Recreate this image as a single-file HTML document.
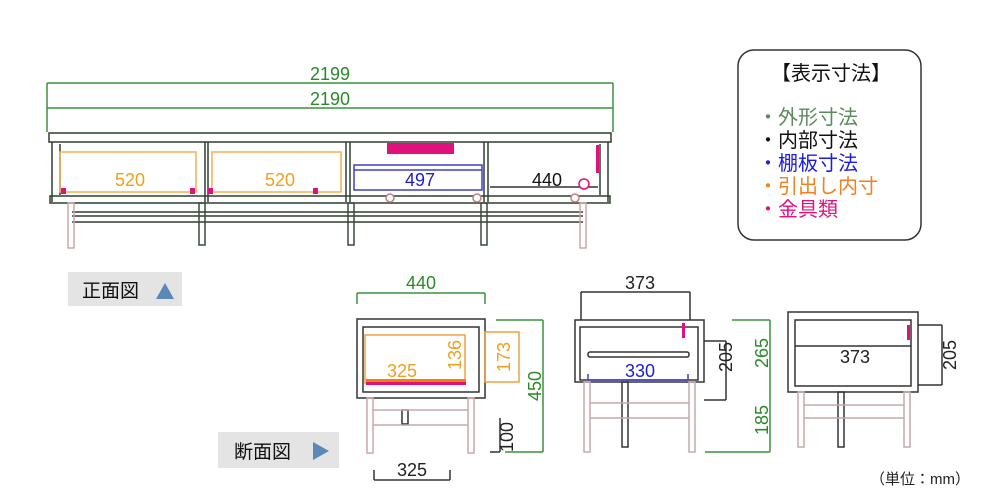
<!DOCTYPE html>
<html><head><meta charset="utf-8"><style>
html,body{margin:0;padding:0;background:#fff;width:1000px;height:500px;overflow:hidden}
svg text{font-family:"Liberation Sans","Noto Sans CJK JP",sans-serif}
</style></head><body>
<svg width="1000" height="500" viewBox="0 0 1000 500" xmlns="http://www.w3.org/2000/svg">
<g fill="none" stroke-width="1.5">
<g stroke="#3a943a">
<line x1="47" y1="83" x2="613" y2="83"/><line x1="47" y1="108" x2="613" y2="108"/>
<line x1="47" y1="83" x2="47" y2="132"/><line x1="613" y1="83" x2="613" y2="132"/>
</g>
<g stroke="#2f3f2f">
<rect x="49" y="133" width="562" height="9"/>
<line x1="52" y1="142" x2="52" y2="202"/><line x1="608" y1="142" x2="608" y2="202"/>
<rect x="50" y="196" width="560" height="7"/>
<line x1="205" y1="142" x2="205" y2="202"/><line x1="208" y1="142" x2="208" y2="202"/>
<line x1="346" y1="142" x2="346" y2="202"/><line x1="350" y1="142" x2="350" y2="202"/>
<line x1="484" y1="142" x2="484" y2="202"/><line x1="488" y1="142" x2="488" y2="202"/>
<line x1="60" y1="144" x2="60" y2="195"/><line x1="600" y1="144" x2="600" y2="195"/>
<line x1="72" y1="212" x2="583" y2="212"/><line x1="72" y1="222" x2="583" y2="222"/>
<line x1="72" y1="216" x2="583" y2="216"/>
</g>
<g stroke="#c8a8a8">
<rect x="68" y="203" width="6" height="45"/><rect x="580" y="203" width="6" height="45"/>
</g>
<g stroke="#3a4a3a">
<rect x="199" y="203" width="6" height="42"/><rect x="348" y="203" width="6" height="42"/>
<rect x="481" y="203" width="6" height="42"/>
</g>
<g stroke="#f0b050">
<rect x="60" y="152" width="136" height="40"/><rect x="212" y="152" width="129" height="40"/>
</g>
<g stroke="#4040c0"><rect x="354" y="165" width="128" height="25"/><line x1="354" y1="170" x2="482" y2="170"/></g>
<line x1="490" y1="187" x2="598" y2="187" stroke="#333"/>
<g stroke="#c08080" fill="#fff"><circle cx="390" cy="198" r="4"/><circle cx="477" cy="198" r="4"/><circle cx="575" cy="198" r="4"/>
<circle cx="584" cy="184" r="5" stroke="#e0117a"/></g>
<rect x="387" y="143" width="67" height="11" fill="#e0117a" stroke="none"/>
<rect x="596" y="145" width="3" height="28" fill="#e0117a" stroke="none"/>
<g fill="#e0117a" stroke="none"><rect x="61" y="188" width="5" height="6"/><rect x="190" y="188" width="5" height="6"/><rect x="208" y="188" width="5" height="6"/><rect x="313" y="188" width="5" height="6"/></g>

<g stroke="#3a943a"><line x1="357" y1="293" x2="485" y2="293"/><line x1="357" y1="293" x2="357" y2="304"/><line x1="485" y1="293" x2="485" y2="304"/>
<line x1="543" y1="320" x2="543" y2="452"/><line x1="496" y1="320" x2="543" y2="320"/><line x1="505" y1="452" x2="543" y2="452"/></g>
<g stroke="#333"><rect x="357" y="319" width="128" height="79"/><rect x="363" y="327" width="116" height="65"/>
<line x1="500" y1="418" x2="500" y2="452"/><line x1="490" y1="452" x2="500" y2="452"/>
<line x1="374" y1="470" x2="374" y2="480"/><line x1="450" y1="470" x2="450" y2="480"/><line x1="374" y1="480" x2="450" y2="480"/>
<rect x="402" y="410" width="6" height="14"/></g>
<g stroke="#c8a8a8"><rect x="367" y="398" width="6" height="55"/><rect x="468" y="398" width="6" height="55"/>
<line x1="373" y1="410" x2="468" y2="410"/><line x1="373" y1="425" x2="468" y2="425"/></g>
<g stroke="#f0a040"><rect x="365" y="335" width="100" height="48"/><rect x="485" y="332" width="34" height="50"/></g>
<rect x="366" y="379" width="100" height="3" fill="#f08000" stroke="none"/>
<rect x="366" y="382" width="100" height="3" fill="#e0117a" stroke="none"/>

<g stroke="#333"><line x1="581" y1="292" x2="690" y2="292"/><line x1="581" y1="292" x2="581" y2="320"/><line x1="690" y1="292" x2="690" y2="320"/>
<rect x="575" y="320" width="129" height="62"/><rect x="580" y="327" width="118" height="53"/>
<line x1="704" y1="341" x2="726" y2="341"/><line x1="704" y1="400" x2="726" y2="400"/><line x1="726" y1="341" x2="726" y2="400"/>
<rect x="588" y="352" width="101" height="5" rx="2"/><rect x="622" y="382" width="6" height="65"/></g>
<g stroke="#3a943a"><line x1="732" y1="320" x2="770" y2="320"/><line x1="770" y1="320" x2="770" y2="452"/><line x1="705" y1="452" x2="770" y2="452"/></g>
<g stroke="#4040c0"><line x1="588" y1="380" x2="688" y2="380"/><line x1="588" y1="374" x2="588" y2="380"/><line x1="688" y1="374" x2="688" y2="380"/></g>
<g stroke="#c8a8a8"><rect x="584" y="382" width="6" height="70"/><rect x="689" y="382" width="6" height="70"/>
<line x1="590" y1="403" x2="689" y2="403"/><line x1="590" y1="418" x2="689" y2="418"/></g>
<rect x="682" y="323" width="3" height="15" fill="#e0117a" stroke="none"/>

<g stroke="#333"><rect x="788" y="312" width="130" height="80"/><rect x="795" y="320" width="116" height="66"/>
<line x1="795" y1="346" x2="911" y2="346"/>
<line x1="918" y1="325" x2="942" y2="325"/><line x1="918" y1="385" x2="942" y2="385"/><line x1="942" y1="325" x2="942" y2="385"/>
<rect x="838" y="392" width="6" height="55"/></g>
<g stroke="#c8a8a8"><rect x="798" y="392" width="6" height="55"/><rect x="904" y="392" width="6" height="55"/>
<line x1="804" y1="405" x2="904" y2="405"/><line x1="804" y1="418" x2="904" y2="418"/></g>
<rect x="907" y="325" width="3" height="15" fill="#e0117a" stroke="none"/>

<rect x="738" y="50" width="183" height="190" rx="16" stroke="#333"/>
</g>

<g font-size="18" text-anchor="middle">
<text x="330" y="80" fill="#2a8a2a">2199</text>
<text x="330" y="105" fill="#2a8a2a">2190</text>
<text x="130" y="186" fill="#f0a020">520</text>
<text x="280" y="186" fill="#f0a020">520</text>
<text x="420" y="186" fill="#1c1cd0">497</text>
<text x="547" y="186" fill="#111">440</text>
<text x="421" y="289" fill="#2a8a2a">440</text>
<text x="640" y="289" fill="#222">373</text>
<text x="402" y="377" fill="#f0a020">325</text>
<text x="640" y="377" fill="#1c1cd0">330</text>
<text x="855" y="363" fill="#222">373</text>
<text x="412" y="476" fill="#222">325</text>
</g>
<g font-size="18" text-anchor="middle">
<text transform="translate(461,355) rotate(-90)" fill="#f0a020">136</text>
<text transform="translate(510,357) rotate(-90)" fill="#f0a020">173</text>
<text transform="translate(541,386) rotate(-90)" fill="#2a8a2a">450</text>
<text transform="translate(513,437) rotate(-90)" fill="#222">100</text>
<text transform="translate(732,357) rotate(-90)" fill="#222">205</text>
<text transform="translate(768,353) rotate(-90)" fill="#2a8a2a">265</text>
<text transform="translate(768,420) rotate(-90)" fill="#2a8a2a">185</text>
<text transform="translate(956,355) rotate(-90)" fill="#222">205</text>
</g>

<rect x="68" y="272" width="114" height="34" fill="#e4e4e4"/>
<text x="82" y="297" font-size="19" fill="#111">正面図</text>
<polygon points="156,299 165,283 174,299" fill="#5a88b8"/>
<rect x="218" y="432" width="121" height="36" fill="#e4e4e4"/>
<text x="234" y="458" font-size="19" fill="#111">断面図</text>
<polygon points="313,442 329,451 313,460" fill="#5a88b8"/>

<g font-size="20">
<text x="771" y="80" fill="#111">【表示寸法】</text>
<text x="758" y="124" fill="#5a8a5a">・外形寸法</text>
<text x="758" y="147" fill="#111">・内部寸法</text>
<text x="758" y="170" fill="#1c1ce0">・棚板寸法</text>
<text x="758" y="193" fill="#f08020">・引出し内寸</text>
<text x="758" y="216" fill="#e0117a">・金具類</text>
</g>
<text x="870" y="484" font-size="15" fill="#222">（単位：mm）</text>
</svg>
</body></html>
